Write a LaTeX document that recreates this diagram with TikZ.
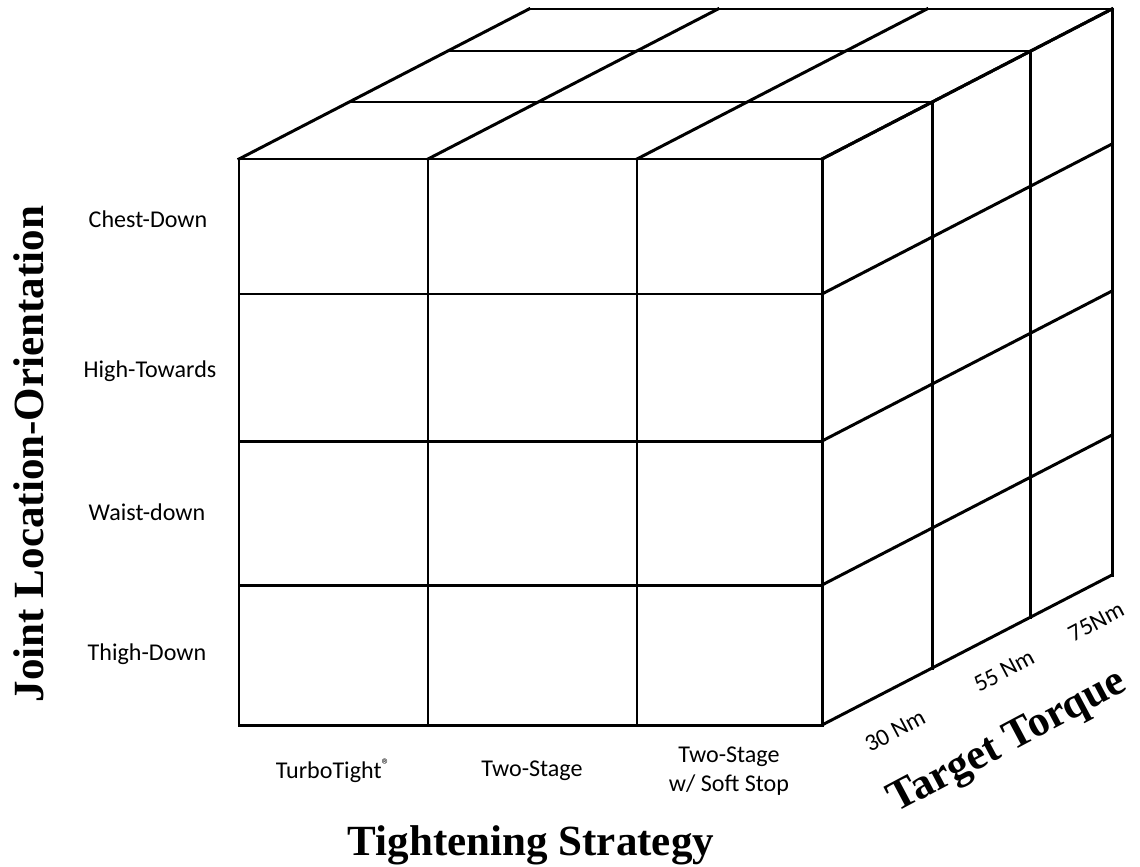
\documentclass[tikz,border=0pt]{standalone}
\usepackage{fontspec}
\setmainfont{Liberation Serif}
\newfontfamily\calfont{Carlito}

\begin{document}
\begin{tikzpicture}[x=0.02cm, y=-0.02cm, line width=1.7pt, line cap=rect,
  lbl/.style={font=\calfont\fontsize{13.7}{16.5}\selectfont},
  axislbl/.style={font=\bfseries\fontsize{24.5}{28}\selectfont}]
\useasboundingbox (0,0) rectangle (1140,866);

% front face
\foreach \x in {239,428,637,822}
  \draw (\x,159) -- (\x,725);
\foreach \y in {159,294,441,585,725}
  \draw (239,\y) -- (822,\y);

% top face
\foreach \x in {239,428,637,822}
  \draw (\x,159) -- ++(290,-150);
\foreach \t in {0.38,0.72,1}
  \draw (239,159) ++(\t*290,-\t*150) -- ++(583,0);

% right face
\foreach \y in {159,294,441,585,725}
  \draw (822,\y) -- ++(290,-150);
\foreach \t in {0.38,0.72,1}
  \draw (822,159) ++(\t*290,-\t*150) -- ++(0,566);

% rows
\node[lbl] (chest) at (148,219) {Chest-Down};
\node[lbl] (high) at (150,371) {High-Towards};
\node[lbl] (waist) at (147,512) {Waist-down};
\node[lbl] (thigh) at (147,654) {Thigh-Down};

% columns
\node[lbl] (turbo) at (333,771) {TurboTight\raisebox{0.7ex}{\fontsize{9.5}{10}\selectfont\textregistered}};
\node[lbl] (twostage) at (532,771) {Two-Stage};
\node[lbl, align=center] (softstop) at (729,771) {Two-Stage\\w/ Soft Stop};

% depth
\node[lbl, rotate=28] (nm30) at (895,731) {30 Nm};
\node[lbl, rotate=28] (nm55) at (1004,671) {55 Nm};
\node[lbl, rotate=28] (nm75) at (1096,622) {75Nm};

% axis titles
\node[axislbl] (strategy) at (531,845) {Tightening Strategy};
\node[axislbl, rotate=90] (joint) at (29,454) {Joint Location-Orientation};
\node[axislbl, rotate=28] (torque) at (1008,743) {Target Torque};

\end{tikzpicture}
\end{document}
